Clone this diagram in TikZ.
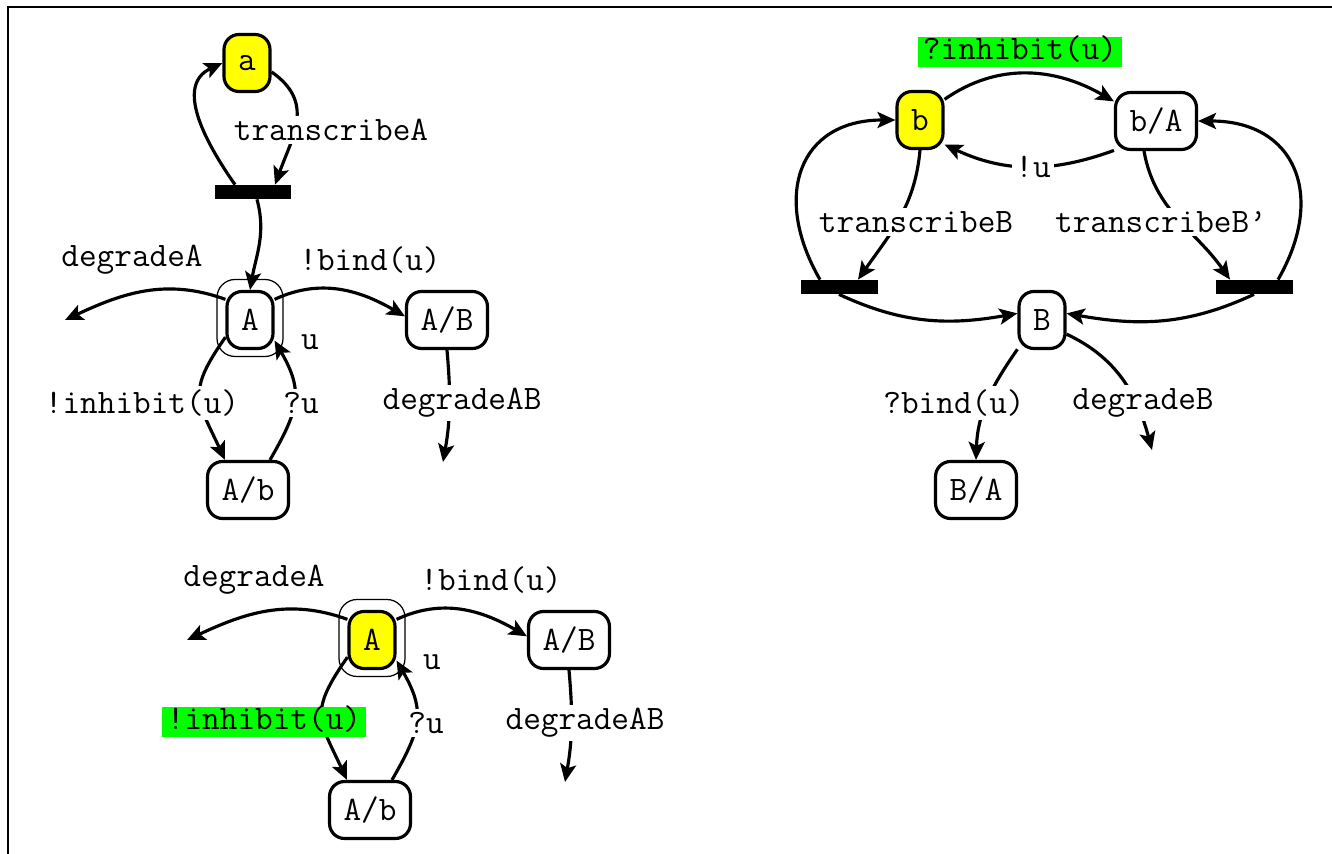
\documentclass[tikz,border=0pt]{standalone}
\usetikzlibrary{arrows.meta}

\definecolor{hiyellow}{RGB}{255,255,0}
\definecolor{higreen}{RGB}{0,255,0}

\tikzstyle{state} = [rectangle, rounded corners=0.3cm, minimum width=0.92cm, minimum height=1.14cm, inner xsep=0.28cm, text centered, draw=black, line width=1.8pt, fill=white]
\tikzstyle{active} = [state, fill=hiyellow]
\tikzstyle{ring} = [rectangle, rounded corners=0.36cm, minimum width=1.32cm, minimum height=1.54cm, draw=black, line width=0.7pt]
\tikzstyle{bar} = [rectangle, minimum width=1.54cm, minimum height=0.28cm, inner sep=0pt, fill=black]
\tikzstyle{trans} = [fill=white, inner sep=2pt]
\tikzstyle{shared} = [fill=higreen, inner xsep=3pt, inner ysep=0.5pt, text height=0.44cm, text depth=0.14cm]
\tikzstyle{edge} = [line width=1.8pt, -{Stealth[length=0.36cm, width=0.32cm, inset=0.08cm]}]

\begin{document}
\begin{tikzpicture}[x=0.02cm, y=0.02cm, every node/.style={font=\fontsize{19.5}{22}\selectfont\ttfamily}]

\useasboundingbox (0,0) rectangle (1332,-854);
\draw [line width=1.1pt] (8,-854) -- (8,-7) -- (1332,-7);

% gene a and protein A
\node (a) [active] at (247,-63) {a};
\node (bar1) [bar] at (253,-192) {};
\node (A1r) [ring] at (250,-318) {};
\node (A1) [state] at (250,-320) {A};
\node (AB1) [state] at (447,-320) {A/B};
\node (Ab1) [state] at (248,-490) {A/b};
\coordinate (dA1) at (65,-320);
\coordinate (dAB1) at (443,-462);

\draw [edge] ([xshift=-0.36cm]bar1.north) to[out=125, in=205, looseness=1.1] (a.west);
\draw [edge] (a.-20) to[out=-35, in=70, looseness=1.2] ([xshift=0.44cm]bar1.north);
\draw [edge] ([xshift=0.08cm]bar1.south) to[out=-75, in=80] (A1.north);
\draw [edge] (A1.140) to[out=160, in=25] (dA1);
\draw [edge] (A1.40) to[out=25, in=150] (AB1.175);
\draw [edge] (AB1.south) to[out=-85, in=80] (dAB1);
\draw [edge] (A1.215) to[out=235, in=115, looseness=1.4] ([xshift=-0.46cm]Ab1.north);
\draw [edge] ([xshift=0.44cm]Ab1.north) to[out=60, in=-60, looseness=1.25] (A1.-40);

\node (tA) [trans] at (331,-130) {transcribeA};
\node (dgA1) [trans] at (132,-260) {degradeA};
\node (bd1) [trans] at (370,-260) {!bind(u)};
\node (u1) [trans] at (310,-342) {u};
\node (inh1) [trans] at (142,-403) {!inhibit(u)};
\node (qu1) [trans] at (301,-403) {?u};
\node (dgAB1) [trans] at (462,-403) {degradeAB};

% protein A alone
\begin{scope}[shift={(122,-320)}]
\node (A2r) [ring] at (250,-318) {};
\node (A2) [active] at (250,-320) {A};
\node (AB2) [state] at (447,-320) {A/B};
\node (Ab2) [state] at (248,-490) {A/b};
\coordinate (dA2) at (65,-320);
\coordinate (dAB2) at (443,-462);

\draw [edge] (A2.140) to[out=160, in=25] (dA2);
\draw [edge] (A2.40) to[out=25, in=150] (AB2.175);
\draw [edge] (AB2.south) to[out=-85, in=80] (dAB2);
\draw [edge] (A2.215) to[out=235, in=115, looseness=1.4] ([xshift=-0.46cm]Ab2.north);
\draw [edge] ([xshift=0.44cm]Ab2.north) to[out=60, in=-60, looseness=1.25] (A2.-40);

\node (dgA2) [trans] at (132,-260) {degradeA};
\node (bd2) [trans] at (369,-260) {!bind(u)};
\node (u2) [trans] at (310,-342) {u};
\node (inh2) [shared] at (142,-402) {!inhibit(u)};
\node (qu2) [trans] at (304,-403) {?u};
\node (dgAB2) [trans] at (463,-403) {degradeAB};
\end{scope}

% gene b and protein B
\node (b) [active] at (920,-120) {b};
\node (bA) [state] at (1156,-121) {b/A};
\node (bar2) [bar] at (839,-287) {};
\node (bar3) [bar] at (1254,-287) {};
\node (B) [state] at (1042,-320) {B};
\node (BA) [state] at (976,-490) {B/A};
\coordinate (dB) at (1152,-450);

\draw [edge] (b.40) to[out=35, in=150] (bA.155);
\draw [edge] (bA.-145) to[out=200, in=-25] (b.-45);
\draw [edge] (b.south) to[out=-95, in=55] ([xshift=0.38cm]bar2.north);
\draw [edge] ([xshift=-0.24cm]bA.south) to[out=-80, in=125] ([xshift=-0.48cm]bar3.north);
\draw [edge] ([xshift=-0.38cm]bar2.north) to[out=120, in=180, looseness=1.4] (b.west);
\draw [edge] ([xshift=0.48cm]bar3.north) to[out=60, in=0, looseness=1.4] (bA.east);
\draw [edge] (bar2.south) to[out=-25, in=190] (B.165);
\draw [edge] (bar3.south) to[out=-155, in=-10] (B.15);
\draw [edge] (B.-130) to[out=-125, in=88] (BA.north);
\draw [edge] (B.-30) to[out=-25, in=105] (dB);

\node (inhB) [shared] at (1020,-52) {?inhibit(u)};
\node (ubang) [trans] at (1033,-167) {!u};
\node (tB) [trans] at (916,-222) {transcribeB};
\node (tB2) [trans] at (1161,-222) {transcribeB’};
\node (bdB) [trans] at (954,-403) {?bind(u)};
\node (dgB) [trans] at (1143,-403) {degradeB};

\end{tikzpicture}
\end{document}
